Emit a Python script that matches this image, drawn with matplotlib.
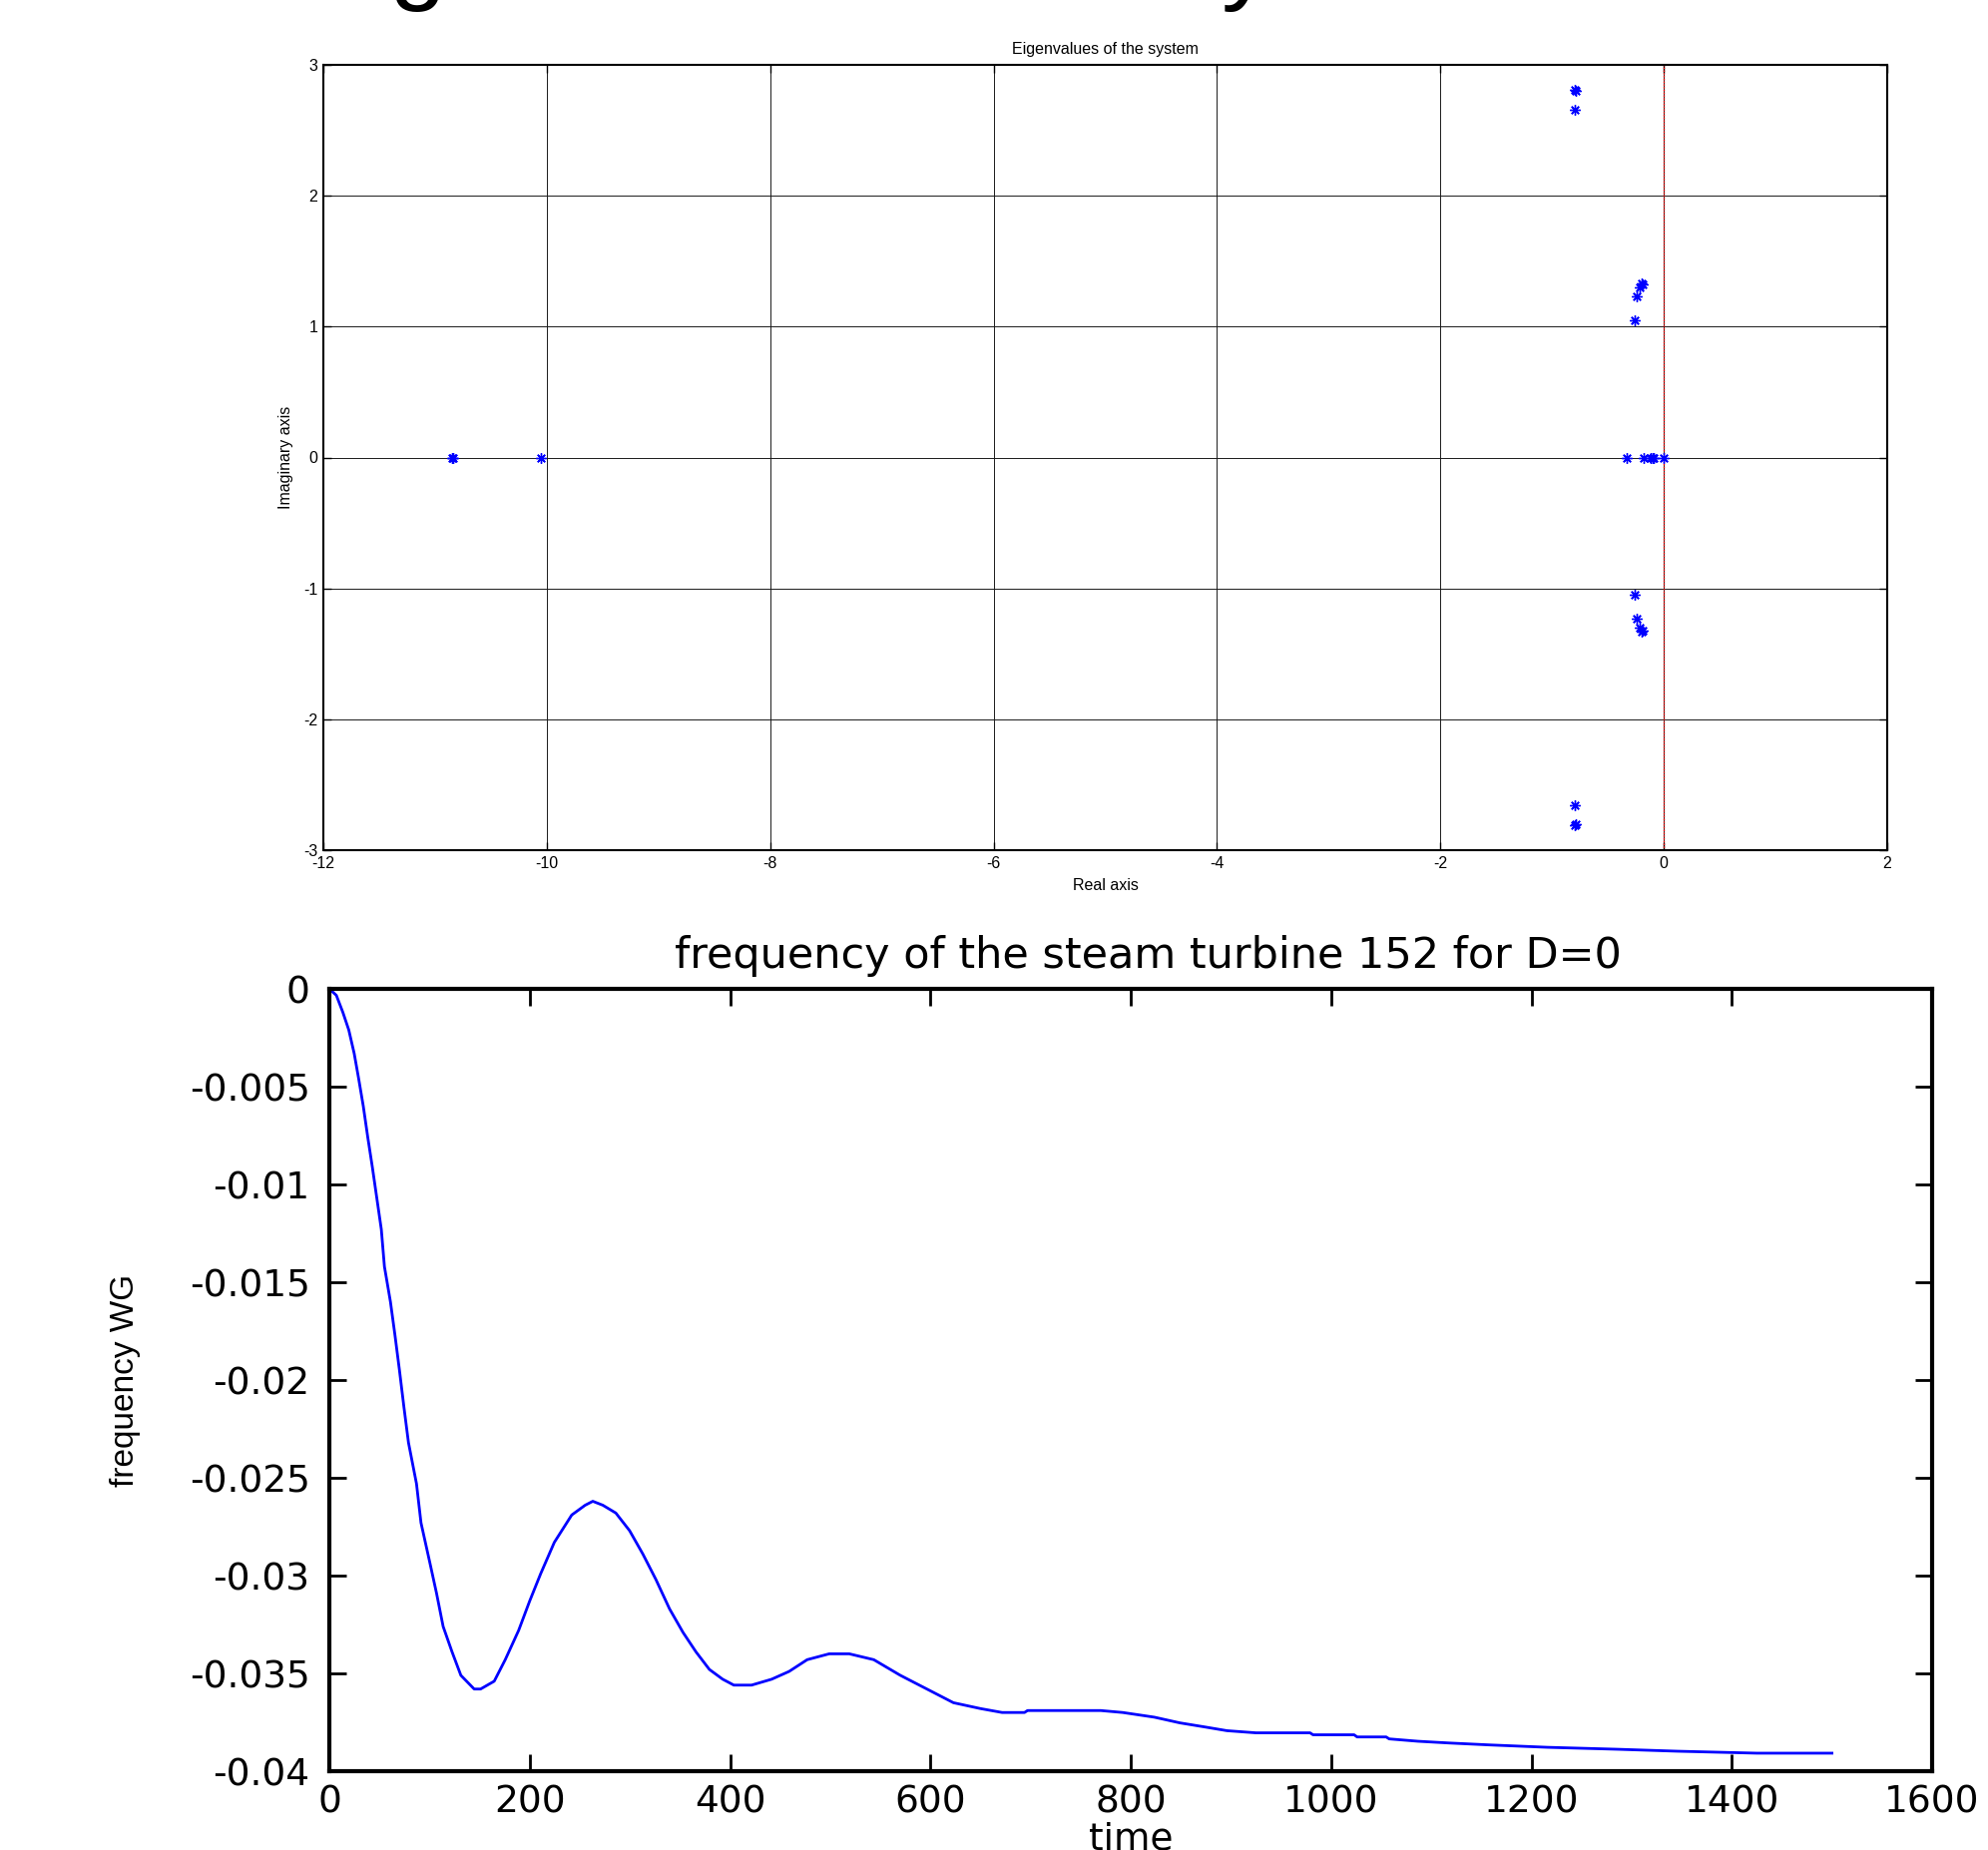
import matplotlib
matplotlib.use("Agg")
import matplotlib.pyplot as plt
from matplotlib import font_manager

# eigenvalues (real, imaginary)
eig_re = [-10.85, -10.84, -10.05,
          -0.80, -0.79, -0.80, -0.80, -0.79, -0.80,
          -0.20, -0.19, -0.22, -0.24, -0.26,
          -0.20, -0.19, -0.22, -0.24, -0.26,
          -0.33, -0.18, -0.12, -0.10, -0.09, 0.0]
eig_im = [0.0, 0.0, 0.0,
          2.81, 2.80, 2.66, -2.81, -2.80, -2.66,
          1.33, 1.32, 1.30, 1.23, 1.05,
          -1.33, -1.32, -1.30, -1.23, -1.05,
          0.0, 0.0, 0.0, 0.0, 0.0, 0.0]

# frequency response of the steam turbine
time = [0, 7, 13.5, 19.4, 24.8, 29.3, 33.9, 38.4, 42.9, 47.4, 51.9, 55, 61, 65.5,
        70, 74.5, 79, 87, 91.5, 100.6, 107, 113.6, 122.5, 131.3, 144.6, 151,
        164.6, 175.6, 189, 200, 211, 224.6, 242, 255.4, 263, 273, 286, 299.7,
        313, 326, 339.6, 353, 366, 379.4, 392.7, 403.8, 421.5, 441.5, 459, 477,
        499, 519, 543.5, 570, 596.5, 623, 650, 671.6, 694, 697, 770, 792, 823.6,
        849, 874, 896, 925, 979, 982, 1023, 1026, 1055, 1058, 1086.6, 1118, 1159,
        1216, 1286, 1346, 1425, 1500]
freq = [0, -0.00033, -0.0012, -0.0021, -0.0033, -0.0046, -0.0060, -0.0076, -0.0091,
        -0.0107, -0.0123, -0.0142, -0.0160, -0.0177, -0.0195, -0.0214, -0.0232,
        -0.0253, -0.0273, -0.0294, -0.0309, -0.0326, -0.0339, -0.0351, -0.0358,
        -0.0358, -0.0354, -0.0343, -0.0328, -0.0313, -0.0299, -0.0283, -0.0269,
        -0.0264, -0.0262, -0.0264, -0.0268, -0.0277, -0.0289, -0.0302, -0.0317,
        -0.0329, -0.0339, -0.0348, -0.0353, -0.0356, -0.0356, -0.0353, -0.0349,
        -0.0343, -0.0340, -0.0340, -0.0343, -0.0351, -0.0358, -0.0365, -0.0368,
        -0.0370, -0.0370, -0.0369, -0.0369, -0.0370, -0.03724, -0.03753, -0.03774,
        -0.03793, -0.03804, -0.03804, -0.03814, -0.03814, -0.03825, -0.03825,
        -0.03835, -0.03847, -0.03856, -0.03866, -0.03878, -0.03888, -0.03898,
        -0.03908, -0.03908]

x_ticks_top = [-12, -10, -8, -6, -4, -2, 0, 2]
y_ticks_top = [-3, -2, -1, 0, 1, 2, 3]
x_ticks_bot = [0, 200, 400, 600, 800, 1000, 1200, 1400, 1600]
y_ticks_bot = [0, -0.005, -0.01, -0.015, -0.02, -0.025, -0.03, -0.035, -0.04]
y_labels_bot = ['0', '-0.005', '-0.01', '-0.015', '-0.02', '-0.025', '-0.03', '-0.035', '-0.04']

plt.rcParams['axes.unicode_minus'] = False

names = {f.name for f in font_manager.fontManager.ttflist}
if 'Liberation Sans Narrow' in names:
    narrow, narrow_size = 'Liberation Sans Narrow', 29
else:
    narrow, narrow_size = 'Liberation Sans', 24

W, H = 1992, 1854
fig = plt.figure(figsize=(W / 100, H / 100), dpi=100)

# cut-off heading above the charts, only descenders show
fig.text(299 / W, 1 + 9.6 / H, 'Eigenvalues of the system', fontsize=74,
         family='Liberation Sans', ha='left', va='baseline')

# ---- upper plot: eigenvalues
ax1 = fig.add_axes([324 / W, 1 - 852 / H, (1891 - 324) / W, (852 - 65) / H])
ax1.plot(eig_re, eig_im, linestyle='none', marker=(8, 2, 0), markersize=7.5,
         markeredgewidth=1.0, color='blue', zorder=3)
ax1.axvline(0, color='red', linewidth=1.0, linestyle=(0, (1, 1)), zorder=2)
ax1.set_xlim(-12, 2)
ax1.set_ylim(-3, 3)
ax1.set_xticks(x_ticks_top)
ax1.set_yticks(y_ticks_top)
ax1.grid(True, color='0.1', linewidth=0.7, linestyle='-')
ax1.set_axisbelow(True)
ax1.tick_params(direction='in', length=6, width=1, top=True, right=True,
                labelsize=11.5, pad=4)
for lab in ax1.get_xticklabels() + ax1.get_yticklabels():
    lab.set_family('Liberation Sans')
for s in ax1.spines.values():
    s.set_linewidth(1.5)
ax1.set_title('Eigenvalues of the system', fontsize=11.5, family='Liberation Sans', pad=8)
ax1.set_xlabel('Real axis', fontsize=11.5, family='Liberation Sans')
ax1.set_ylabel('Imaginary axis', fontsize=11.5, family='Liberation Sans')
ax1.xaxis.set_label_coords(0.5, (852 - 880) / 787)
ax1.yaxis.set_label_coords((294 - 324) / 1567, 0.5)

# ---- lower plot: frequency
ax2 = fig.add_axes([330 / W, 1 - 1775 / H, (1936 - 330) / W, (1775 - 991) / H])
ax2.plot(time, freq, color='blue', linewidth=2.0)
ax2.set_xlim(0, 1600)
ax2.set_ylim(-0.04, 0)
ax2.set_xticks(x_ticks_bot)
ax2.set_yticks(y_ticks_bot)
ax2.set_yticklabels(y_labels_bot)
ax2.tick_params(direction='in', length=12, width=2, top=True, right=True,
                labelsize=27)
ax2.tick_params(axis='y', pad=14)
ax2.tick_params(axis='x', pad=10)
for lab in ax2.get_xticklabels() + ax2.get_yticklabels():
    lab.set_family('DejaVu Sans')
for s in ax2.spines.values():
    s.set_linewidth(3)
ax2.set_title('frequency of the steam turbine 152 for D=0', fontsize=31,
              family='DejaVu Sans', x=(1150 - 330) / 1606, pad=15)
ax2.set_xlabel('time', fontsize=27, family='DejaVu Sans')
ax2.xaxis.set_label_coords(0.5, (1775 - 1826) / 784)
ax2.set_ylabel('frequency WG', fontsize=narrow_size, family=narrow)
ax2.yaxis.set_label_coords((141 - 330) / 1606, 0.5)

fig.savefig('out.png', dpi=100)
